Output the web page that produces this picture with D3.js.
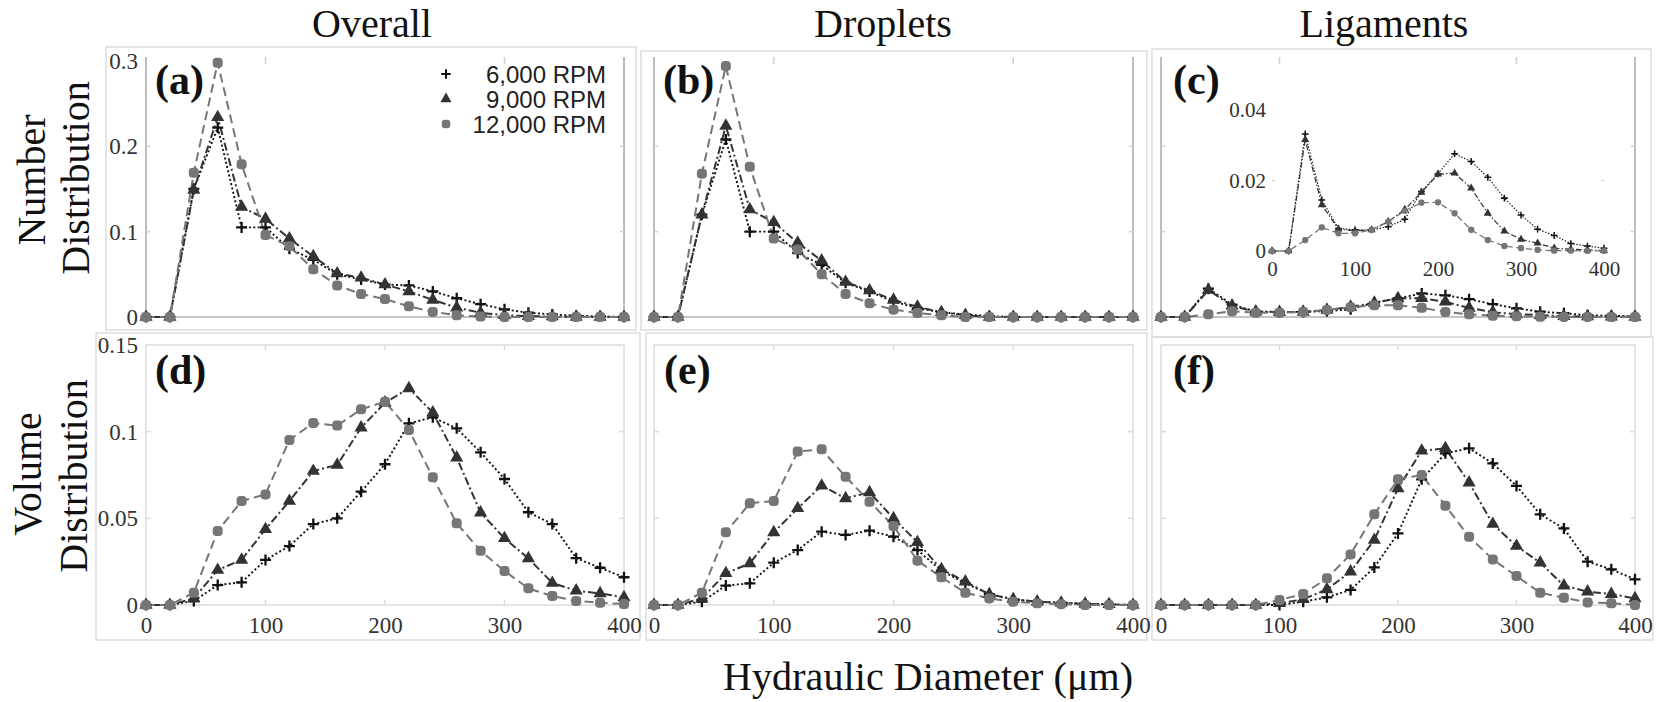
<!DOCTYPE html>
<html><head><meta charset="utf-8">
<script src="https://cdn.jsdelivr.net/npm/d3@7"></script>
<style>body{margin:0;background:#fff}svg{display:block}</style>
</head><body>
<svg id="chart" width="1666" height="702"></svg>
<script>
// ---------------- DATA ----------------
const diameters = [0,20,40,60,80,100,120,140,160,180,200,220,240,260,280,300,320,340,360,380,400];
const seriesNames = ["6,000 RPM","9,000 RPM","12,000 RPM"];
const columnTitles = ["Overall","Droplets","Ligaments"];
const panelLetters = ["(a)","(b)","(c)","(d)","(e)","(f)"];
const xTicks = [0,100,200,300,400];
const numberTicks = [0,0.1,0.2,0.3];
const numberTickLabels = ["0","0.1","0.2","0.3"];
const volumeTicks = [0,0.05,0.1,0.15];
const volumeTickLabels = ["0","0.05","0.1","0.15"];
const insetYTicks = [0,0.02,0.04];
const insetYTickLabels = ["0","0.02","0.04"];

// (a) Number distribution - Overall
const numOverall6k  = [0,0,0.150,0.222,0.105,0.105,0.080,0.067,0.050,0.044,0.038,0.037,0.030,0.022,0.015,0.009,0.005,0.003,0.0015,0.0008,0];
const numOverall9k  = [0,0,0.149,0.234,0.129,0.115,0.092,0.071,0.051,0.046,0.038,0.030,0.020,0.011,0.005,0.002,0.001,0.0005,0,0,0];
const numOverall12k = [0,0,0.169,0.298,0.179,0.096,0.083,0.056,0.037,0.027,0.021,0.0125,0.006,0.002,0.0005,0,0,0,0,0,0];
// (b) Number distribution - Droplets
const numDroplets6k  = [0,0,0.120,0.208,0.100,0.100,0.075,0.061,0.040,0.030,0.018,0.0105,0.0055,0.003,0.001,0,0,0,0,0,0];
const numDroplets9k  = [0,0,0.120,0.224,0.126,0.111,0.087,0.066,0.041,0.031,0.020,0.012,0.0055,0.002,0,0,0,0,0,0,0];
const numDroplets12k = [0,0,0.168,0.294,0.176,0.092,0.079,0.050,0.027,0.016,0.0086,0.0047,0.002,0,0,0,0,0,0,0,0];
// (c) Number distribution - Ligaments
const numLigaments6k  = [0,0,0.0332,0.0145,0.0064,0.0060,0.0060,0.0069,0.0090,0.0169,0.0219,0.0276,0.0254,0.0209,0.0150,0.0102,0.0062,0.0044,0.0021,0.0014,0.0008];
const numLigaments9k  = [0,0,0.0316,0.0131,0.0062,0.0057,0.0060,0.0083,0.0118,0.0166,0.0218,0.0221,0.0178,0.0107,0.0056,0.0033,0.0022,0.0008,0.0005,0.0003,0.0001];
const numLigaments12k = [0,0,0.0031,0.0067,0.0050,0.0050,0.0060,0.0083,0.0114,0.0137,0.0138,0.0107,0.0060,0.0031,0.0014,0.0008,0.0003,0.0001,0.0001,0,0];
// (d) Volume distribution - Overall
const volOverall6k  = [0,0,0.0023,0.0115,0.0131,0.026,0.034,0.0467,0.050,0.0654,0.0812,0.1048,0.1083,0.1019,0.0881,0.0727,0.0535,0.0467,0.027,0.0215,0.016];
const volOverall9k  = [0,0,0.0038,0.0202,0.026,0.0437,0.060,0.0773,0.0808,0.1023,0.1167,0.125,0.111,0.085,0.0533,0.0385,0.0269,0.0127,0.0083,0.0067,0.0044];
const volOverall12k = [0,0,0.0071,0.0427,0.060,0.0638,0.0952,0.105,0.1035,0.1129,0.1173,0.101,0.0737,0.0471,0.0313,0.0196,0.0096,0.0052,0.0023,0.0013,0.0006];
// (e) Volume distribution - Droplets
const volDroplets6k  = [0,0,0.0019,0.0112,0.0125,0.0244,0.0317,0.0423,0.0404,0.0429,0.0394,0.0317,0.0198,0.0125,0.0063,0.0033,0.0019,0.0013,0.0008,0.0004,0];
const volDroplets9k  = [0,0,0.0038,0.0183,0.024,0.0419,0.0558,0.0688,0.0615,0.065,0.050,0.0362,0.0206,0.0135,0.0062,0.0033,0.0019,0.0013,0.0006,0.0004,0];
const volDroplets12k = [0,0,0.0071,0.0419,0.0587,0.060,0.0885,0.0898,0.074,0.0596,0.0456,0.0256,0.016,0.0071,0.0038,0.0019,0.001,0.0005,0,0,0];
// (f) Volume distribution - Ligaments
const volLigaments6k  = [0,0,0,0,0,0,0.0019,0.0044,0.0087,0.0217,0.0413,0.0725,0.0875,0.0904,0.0817,0.0687,0.0523,0.0442,0.025,0.0206,0.0148];
const volLigaments9k  = [0,0,0,0,0,0.001,0.0033,0.009,0.0192,0.0375,0.0673,0.089,0.0904,0.0706,0.0467,0.034,0.0244,0.0112,0.0077,0.0063,0.0038];
const volLigaments12k = [0,0,0,0,0,0.0029,0.0063,0.0154,0.0292,0.0523,0.0725,0.075,0.0573,0.0394,0.0263,0.0167,0.0071,0.0042,0.0015,0.001,0];

// ---------------- STYLE / LAYOUT ----------------
const serif = "'Liberation Serif','Times New Roman','DejaVu Serif',serif";
const sans = "'Liberation Sans',Arial,sans-serif";
const styles = [
  {color:"#111", dash:"2,2.4", width:1.9, marker:"plus"},
  {color:"#333", dash:"8,3,2,3", width:2, marker:"tri"},
  {color:"#767676", dash:"9,5", width:2, marker:"sq"}
];
const colRange = [[146,624],[654,1133],[1161,1635]];
const rowRange = [[317,61],[605,345]];
const rowDomain = [[0,0.3],[0,0.15]];
const frames = [
  [106,47,636,330],[641,51,1147,330],[1152,49,1651,337],
  [96,333,640,640],[646,333,1147,640],[1152,337,1653,640]
];
const letterPos = [[155,94],[663,94],[1173,94],[155,384],[664,384],[1173,384]];

const svg = d3.select("#chart");
svg.append("rect").attr("width",1666).attr("height",702).attr("fill","#fff");

// frames
svg.append("g").selectAll("rect").data(frames).join("rect")
  .attr("x",d=>d[0]).attr("y",d=>d[1]).attr("width",d=>d[2]-d[0]).attr("height",d=>d[3]-d[1])
  .attr("fill","none").attr("stroke","#dadada").attr("stroke-width",1.4);

function drawMarkers(g, pts, st, x, y, s) {
  const m = g.append("g").selectAll("g").data(pts).join("g")
    .attr("transform", d=>`translate(${x(d[0])},${y(d[1])})`);
  if (st.marker === "plus") {
    m.append("path").attr("d",`M${-5.5*s},0H${5.5*s}M0,${-5.5*s}V${5.5*s}`)
      .attr("stroke",st.color).attr("stroke-width",2.1*s+0.2).attr("fill","none");
  } else if (st.marker === "tri") {
    m.append("path").attr("d", d3.symbol(d3.symbolTriangle, 75*s*s)()).attr("fill",st.color);
  } else {
    m.append("rect").attr("x",-5*s).attr("y",-5*s).attr("width",10*s).attr("height",10*s)
      .attr("rx",3.8*s).attr("fill",st.color);
  }
}

function drawSeries(g, seriesList, x, y, s) {
  seriesList.forEach((vals, k) => {
    const st = styles[k];
    const pts = diameters.map((d,i)=>[d, vals[i]]);
    g.append("path").datum(pts)
      .attr("d", d3.line().x(d=>x(d[0])).y(d=>y(d[1])))
      .attr("fill","none").attr("stroke",st.color).attr("stroke-width",st.width*s)
      .attr("stroke-dasharray", st.dash.split(",").map(v=>+v*Math.max(s,0.7)).join(","));
  });
  seriesList.forEach((vals, k) => {
    const pts = diameters.map((d,i)=>[d, vals[i]]);
    drawMarkers(g, pts, styles[k], x, y, s);
  });
}

const panelData = [
  [numOverall6k, numOverall9k, numOverall12k],
  [numDroplets6k, numDroplets9k, numDroplets12k],
  [numLigaments6k, numLigaments9k, numLigaments12k],
  [volOverall6k, volOverall9k, volOverall12k],
  [volDroplets6k, volDroplets9k, volDroplets12k],
  [volLigaments6k, volLigaments9k, volLigaments12k]
];

for (let p = 0; p < 6; p++) {
  const row = Math.floor(p/3), col = p % 3;
  const x = d3.scaleLinear().domain([0,400]).range(colRange[col]);
  const y = d3.scaleLinear().domain(rowDomain[row]).range(rowRange[row]);
  const g = svg.append("g");
  const x0 = x(0), x1 = x(400), yb = y(0), yt = y(rowDomain[row][1]);
  const yTickVals = row === 0 ? numberTicks : volumeTicks;
  if (row === 0) {
    const ag = g.append("g").attr("fill","none");
    ag.append("path").attr("d",`M${x0},${yt-4}V${yb}H${x1}V${yt-4}`)
      .attr("stroke","#b3b3b3").attr("stroke-width",1.7);
    [100,300].forEach(t=>ag.append("line").attr("x1",x(t)).attr("x2",x(t)).attr("y1",yt-4).attr("y2",yt+3).attr("stroke","#d0d0d0").attr("stroke-width",1.5));
    [0.1,0.2].forEach(t=>{
      ag.append("line").attr("x1",x0).attr("x2",x0+4).attr("y1",y(t)).attr("y2",y(t)).attr("stroke","#d0d0d0").attr("stroke-width",1.5);
      ag.append("line").attr("x1",x1).attr("x2",x1-4).attr("y1",y(t)).attr("y2",y(t)).attr("stroke","#d0d0d0").attr("stroke-width",1.5);
    });
  } else {
    const ag = g.append("g").attr("fill","none").attr("stroke","#dcdcdc").attr("stroke-width",1.5);
    ag.append("rect").attr("x",x0).attr("y",yt).attr("width",x1-x0).attr("height",yb-yt);
    [100,200,300].forEach(t=>{
      ag.append("line").attr("x1",x(t)).attr("x2",x(t)).attr("y1",yt).attr("y2",yt+5);
      ag.append("line").attr("x1",x(t)).attr("x2",x(t)).attr("y1",yb).attr("y2",yb-5);
    });
    [0.05,0.1].forEach(t=>{
      ag.append("line").attr("x1",x0).attr("x2",x0+5).attr("y1",y(t)).attr("y2",y(t));
      ag.append("line").attr("x1",x1).attr("x2",x1-5).attr("y1",y(t)).attr("y2",y(t));
    });
    // x tick labels
    const xa = g.append("g").attr("transform",`translate(0,${yb})`)
      .call(d3.axisBottom(x).tickValues(xTicks).tickSize(0).tickPadding(12).tickFormat(d3.format("d")));
    xa.select(".domain").remove();
    xa.selectAll("text").attr("font-family",serif).attr("font-size",23).attr("fill","#333");
  }
  if (col === 0) {
    const labels = row === 0 ? numberTickLabels : volumeTickLabels;
    const ya = g.append("g").attr("transform",`translate(${x0},0)`)
      .call(d3.axisLeft(y).tickValues(yTickVals).tickSize(0).tickPadding(8).tickFormat((d,i)=>labels[i]));
    ya.select(".domain").remove();
    ya.selectAll("text").attr("font-family",serif).attr("font-size",23).attr("fill","#333");
  }
  drawSeries(g, panelData[p], x, y, 1);
  // panel letter
  svg.append("text").attr("x",letterPos[p][0]).attr("y",letterPos[p][1])
    .attr("font-family",serif).attr("font-weight","bold").attr("font-size",42).attr("fill","#111")
    .text(panelLetters[p]);
}

// ---- inset in (c) ----
{
  const xi = d3.scaleLinear().domain([0,400]).range([1272,1604]);
  const yi = d3.scaleLinear().domain([0,0.04]).range([251,110]);
  const g = svg.append("g");
  [0.02].forEach(t=>{
    g.append("line").attr("x1",xi(0)).attr("x2",xi(0)+3).attr("y1",yi(t)).attr("y2",yi(t)).attr("stroke","#ccc");
    g.append("line").attr("x1",xi(400)).attr("x2",xi(400)-3).attr("y1",yi(t)).attr("y2",yi(t)).attr("stroke","#ccc");
  });
  const ya = g.append("g").attr("transform",`translate(${xi(0)},0)`)
    .call(d3.axisLeft(yi).tickValues(insetYTicks).tickSize(0).tickPadding(6).tickFormat((d,i)=>insetYTickLabels[i]));
  ya.select(".domain").remove();
  ya.selectAll("text").attr("font-family",serif).attr("font-size",21).attr("fill","#333");
  const xa = g.append("g").attr("transform",`translate(0,${yi(0)})`)
    .call(d3.axisBottom(xi).tickValues(xTicks).tickSize(0).tickPadding(10).tickFormat(d3.format("d")));
  xa.select(".domain").remove();
  xa.selectAll("text").attr("font-family",serif).attr("font-size",21).attr("fill","#333");
  drawSeries(g, panelData[2], xi, yi, 0.62);
}

// ---- legend in (a) ----
{
  const lg = svg.append("g");
  const rows = [74,99,124];
  seriesNames.forEach((name,k)=>{
    drawMarkers(lg, [[0,rows[k]]], styles[k], v=>446, v=>v, 0.85);
    lg.append("text").attr("x",606).attr("y",rows[k]+8.5).attr("text-anchor","end")
      .attr("font-family",sans).attr("font-size",24).attr("fill","#222").text(name);
  });
}

// ---- titles ----
const titleX = [372,883,1384];
columnTitles.forEach((t,i)=>{
  svg.append("text").attr("x",titleX[i]).attr("y",37).attr("text-anchor","middle")
    .attr("font-family",serif).attr("font-size",40).attr("fill","#111").text(t);
});
svg.append("text").attr("x",928).attr("y",690).attr("text-anchor","middle")
  .attr("font-family",serif).attr("font-size",40).attr("fill","#111")
  .attr("textLength",410).attr("lengthAdjust","spacing").text("Hydraulic Diameter (μm)");

function vLabel(txt, x, y) {
  svg.append("text").attr("transform",`translate(${x},${y}) rotate(-90)`).attr("text-anchor","middle")
    .attr("font-family",serif).attr("font-size",40).attr("fill","#111").text(txt);
}
vLabel("Number", 45, 180);
vLabel("Distribution", 89, 178);
vLabel("Volume", 41, 474);
vLabel("Distribution", 87, 476);
</script>
</body></html>
